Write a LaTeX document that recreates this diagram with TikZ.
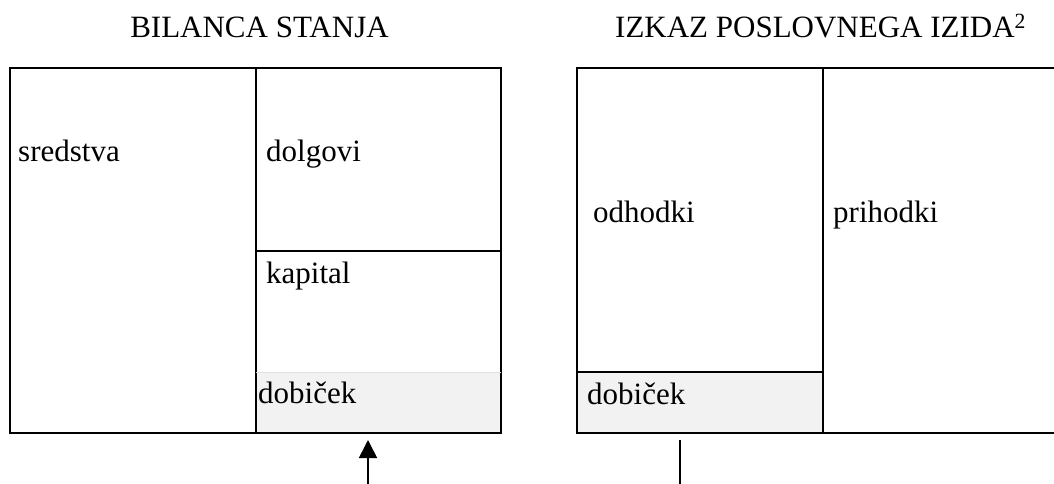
\documentclass[tikz,border=0pt]{standalone}
\usepackage{fontspec}
\setmainfont{Liberation Serif}
\usetikzlibrary{arrows.meta}
\begin{document}
\begin{tikzpicture}[x=1pt,y=-1pt,
  frame/.style={line width=1.6pt},
  profit/.style={fill=black!5},
  label/.style={anchor=base west, inner sep=0pt, font=\fontsize{31}{37}\selectfont},
  title/.style={inner sep=0pt, font=\fontsize{31}{37}\selectfont},
  flow/.style={line width=1.6pt}]
\useasboundingbox (0,0) rectangle (1054,484);

% shaded profit cells
\fill[profit] (256,372) rectangle (501,433);
\fill[profit] (577,372) rectangle (823,433);

% balance sheet frame
\draw[frame] (10,68) rectangle (501,433);
\draw[frame] (256,68) -- (256,433);
\draw[frame] (256,251) -- (501,251);
\draw[black!12, line width=0.8pt] (256,372) -- (501,372);

% income statement frame (open to the right)
\draw[frame] (1054,68) -- (577,68) -- (577,433) -- (1054,433);
\draw[frame] (823,68) -- (823,433);
\draw[frame] (577,372) -- (823,372);

% titles
\node[title, anchor=base] (t1) at (259.5,38) {BILANCA STANJA};
\node[title, anchor=base west] (t2) at (615,38) {IZKAZ POSLOVNEGA IZIDA\textsuperscript{2}};

% cell labels
\node[label] (sredstva) at (18,161) {sredstva};
\node[label] (dolgovi) at (266,161) {dolgovi};
\node[label] (kapital) at (266,283) {kapital};
\node[label] (dob1) at (258,403) {dobiček};
\node[label] (odhodki) at (593,222) {odhodki};
\node[label] (prihodki) at (833,222) {prihodki};
\node[label] (dob2) at (587,404) {dobiček};

% connectors below the tables
\coordinate (a0) at (368,484);
\coordinate (a1) at (368,440);
\draw[flow,-{Triangle[width=18pt,length=18pt]}] (a0) -- (a1);
\coordinate (b0) at (680,484);
\coordinate (b1) at (680,440);
\draw[flow] (b0) -- (b1);
\end{tikzpicture}
\end{document}
